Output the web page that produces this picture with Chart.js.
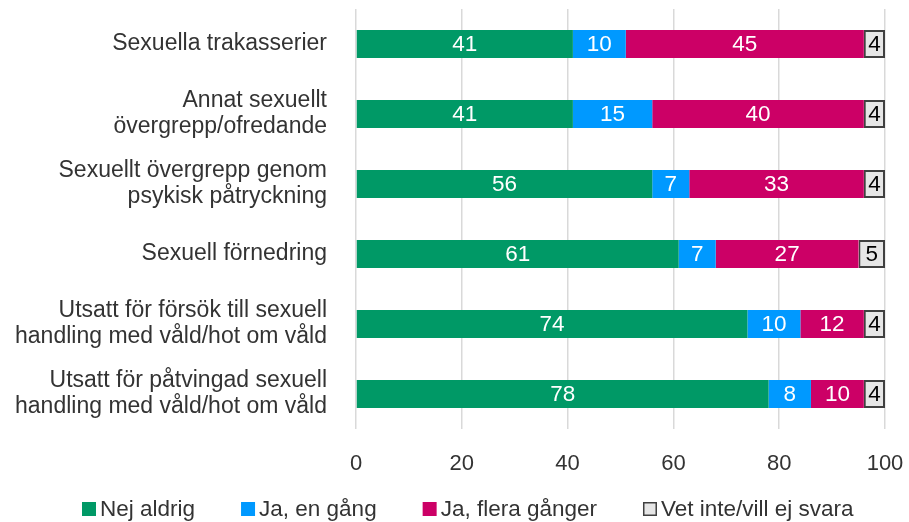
<!DOCTYPE html>
<html>
<head>
<meta charset="utf-8">
<script src="https://cdn.jsdelivr.net/npm/chart.js@4"></script>
<style>
  html, body { margin: 0; padding: 0; background: #fff; }
  #wrap { width: 909px; height: 522px; }
</style>
</head>
<body>
<div id="wrap"><canvas id="chart" width="909" height="522"></canvas></div>
<script>
// kategorier (flerradiga etiketter)
const categories = [
  ["Sexuella trakasserier"],
  ["Annat sexuellt", "övergrepp/ofredande"],
  ["Sexuellt övergrepp genom", "psykisk påtryckning"],
  ["Sexuell förnedring"],
  ["Utsatt för försök till sexuell", "handling med våld/hot om våld"],
  ["Utsatt för påtvingad sexuell", "handling med våld/hot om våld"]
];

const nejAldrig    = [41, 41, 56, 61, 74, 78];
const jaEnGang     = [10, 15, 7, 7, 10, 8];
const jaFleraGang  = [45, 40, 33, 27, 12, 10];
const vetInte      = [4, 4, 4, 5, 4, 4];

const xTicks = [0, 20, 40, 60, 80, 100];

const FONT = "'Liberation Sans', Arial, sans-serif";

// etiketter mitt i staplarna
const barLabels = {
  id: "barLabels",
  afterDatasetsDraw(chart) {
    const ctx = chart.ctx;
    ctx.save();
    ctx.font = "22.5px " + FONT;
    ctx.textAlign = "center";
    ctx.textBaseline = "middle";
    chart.data.datasets.forEach((ds, i) => {
      const meta = chart.getDatasetMeta(i);
      meta.data.forEach((bar, j) => {
        const cx = (bar.x + bar.base) / 2;
        ctx.fillStyle = ds.labelColor;
        ctx.fillText(String(ds.data[j]), cx, bar.y + 1);
      });
    });
    ctx.restore();
  }
};

// egen legend längst ner (Excel-stil: liten ruta tätt intill texten)
const bottomLegend = {
  id: "bottomLegend",
  afterDraw(chart) {
    const ctx = chart.ctx;
    const y = 509;
    let x = 82;
    ctx.save();
    ctx.font = "22.5px " + FONT;
    ctx.textBaseline = "middle";
    ctx.textAlign = "left";
    chart.data.datasets.forEach((ds) => {
      ctx.fillStyle = ds.backgroundColor;
      ctx.fillRect(x, y - 7, 14, 14);
      if (ds.borderWidth) {
        ctx.strokeStyle = ds.borderColor;
        ctx.lineWidth = 1.5;
        ctx.strokeRect(x + 0.75, y - 6.25, 12.5, 12.5);
      }
      ctx.fillStyle = "#333333";
      ctx.fillText(ds.label, x + 18, y + 1);
      x += 18 + ctx.measureText(ds.label).width + 46;
    });
    ctx.restore();
  }
};

new Chart(document.getElementById("chart"), {
  type: "bar",
  data: {
    labels: categories,
    datasets: [
      { label: "Nej aldrig", data: nejAldrig, backgroundColor: "#009966", labelColor: "#ffffff" },
      { label: "Ja, en gång", data: jaEnGang, backgroundColor: "#0099ff", labelColor: "#ffffff" },
      { label: "Ja, flera gånger", data: jaFleraGang, backgroundColor: "#cc0066", labelColor: "#ffffff" },
      { label: "Vet inte/vill ej svara", data: vetInte, backgroundColor: "#e6e6e6",
        borderColor: "#404040", borderWidth: 2, borderSkipped: false, labelColor: "#000000" }
    ]
  },
  options: {
    indexAxis: "y",
    responsive: false,
    animation: false,
    layout: { padding: { top: 9, right: 24, left: 0, bottom: 43 } },
    datasets: {
      bar: { barPercentage: 0.4, categoryPercentage: 1.0 }
    },
    scales: {
      x: {
        stacked: true,
        min: 0,
        max: 100,
        afterBuildTicks: (scale) => { scale.ticks = xTicks.map(v => ({ value: v })); },
        afterFit: (scale) => {
          scale.height = 50;
          scale.paddingLeft = 0;
          scale.paddingRight = 0;
        },
        grid: { color: "#d9d9d9", lineWidth: 1.5, drawTicks: false },
        border: { display: false },
        ticks: { color: "#333333", font: { family: FONT, size: 22 }, padding: 22 }
      },
      y: {
        stacked: true,
        grid: { display: false },
        border: { display: false },
        afterFit: (scale) => {
          scale.width = 356;
          scale.paddingTop = 0;
          scale.paddingBottom = 0;
        },
        ticks: { color: "#333333", font: { family: FONT, size: 23, lineHeight: 1.13 }, padding: 21 }
      }
    },
    plugins: {
      legend: { display: false },
      tooltip: { enabled: false }
    }
  },
  plugins: [barLabels, bottomLegend]
});
</script>
</body>
</html>
